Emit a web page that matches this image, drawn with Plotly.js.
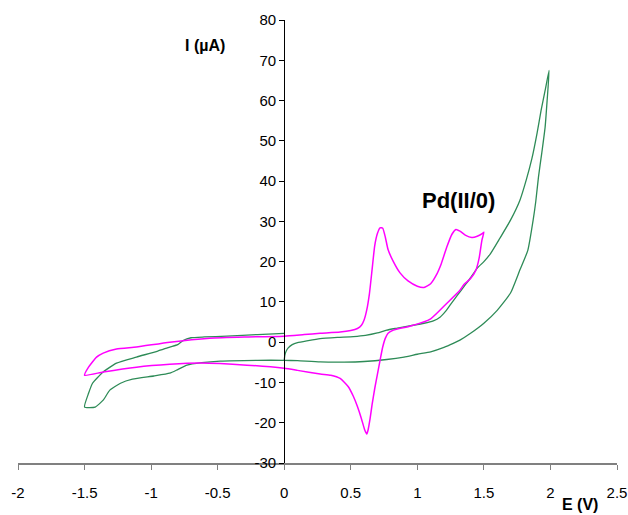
<!DOCTYPE html>
<html>
<head>
<meta charset="utf-8">
<script src="https://cdn.plot.ly/plotly-3.0.1.min.js"></script>
<style>html,body{margin:0;padding:0;background:#fff;}#chart{width:628px;height:515px;}</style>
</head>
<body>
<div id="chart"></div>
<script>
// Green CV (potential E in V, current I in µA)
const greenE = [0, 0.005, 0.015, 0.03, 0.06, 0.1, 0.18, 0.27, 0.4, 0.52, 0.61, 0.7, 0.77, 0.85, 0.95, 1.05, 1.12, 1.17, 1.21, 1.25, 1.3, 1.35, 1.40, 1.45, 1.50, 1.55, 1.62, 1.70, 1.77, 1.82, 1.86, 1.90, 1.93, 1.96, 1.99,
  1.975, 1.96, 1.935, 1.91, 1.89, 1.87, 1.83, 1.77, 1.70, 1.60, 1.50, 1.40, 1.32, 1.27, 1.2, 1.1, 1.0, 0.9, 0.77, 0.6, 0.45, 0.27, 0.1, 0, -0.2, -0.48, -0.62, -0.73, -0.80, -0.86, -0.98, -1.14, -1.23, -1.31, -1.36, -1.42, -1.50,
  -1.47, -1.44, -1.36, -1.26, -1.11, -0.95, -0.86, -0.80, -0.76, -0.70, -0.6, -0.43, -0.2, 0];
const greenI = [-4.5, -3.2, -2.2, -1.4, -0.6, -0.1, 0.4, 0.9, 1.2, 1.4, 1.7, 2.3, 3.0, 3.5, 4.1, 4.7, 5.3, 6.2, 7.6, 9.4, 11.6, 13.8, 16, 18.4, 20, 22, 25.8, 30.3, 35.2, 40.5, 45.5, 52, 57.6, 62.5, 67.5,
  60, 53.4, 47, 41, 35, 30.3, 22.8, 17.9, 12.2, 7.9, 4.7, 2.2, 0.5, -0.3, -1.3, -2.4, -3.0, -3.7, -4.3, -4.8, -4.95, -4.9, -4.6, -4.5, -4.5, -4.7, -5.1, -5.7, -6.8, -7.7, -8.4, -9.2, -10.2, -11.9, -14.4, -16.1, -16.1,
  -12.7, -10.2, -7.4, -5.2, -3.7, -2.2, -1.2, -0.6, 0.4, 1.1, 1.3, 1.5, 1.9, 2.2];

// Magenta CV, Pd(II/0)
const magE = [0, 0.15, 0.27, 0.42, 0.5, 0.55, 0.58, 0.60, 0.62, 0.64, 0.66, 0.68, 0.70, 0.72, 0.74, 0.76, 0.78, 0.82, 0.87, 0.93, 1.0, 1.05, 1.10, 1.14, 1.18, 1.22, 1.26, 1.29, 1.32, 1.36, 1.41, 1.45, 1.49, 1.5,
  1.485, 1.465, 1.44, 1.40, 1.35, 1.32, 1.22, 1.10, 0.95, 0.82, 0.78, 0.76, 0.74, 0.72, 0.70, 0.68, 0.66, 0.645, 0.63, 0.62, 0.605, 0.58, 0.55, 0.52, 0.48, 0.42, 0.35, 0.27, 0.1, 0, -0.28, -0.63, -0.86, -1.11, -1.36, -1.50,
  -1.47, -1.41, -1.36, -1.26, -1.11, -0.86, -0.56, -0.3, 0];
const magI = [1.5, 1.9, 2.2, 2.5, 2.9, 3.4, 4.2, 5.5, 8, 12, 18, 24, 27, 28.4, 28.3, 26, 23, 20, 17.2, 15.2, 13.9, 13.6, 14.5, 16.5, 19.5, 23.5, 26.8, 28, 27.6, 26.6, 26, 26.3, 27, 27.3,
  25.3, 21, 17.9, 15.8, 14.3, 12.9, 9.6, 5.8, 4.0, 3.0, 2.2, 1.0, -1.2, -4.5, -8, -11.5, -15.5, -19, -21.8, -22.8, -21.8, -19, -16, -13.5, -11, -9, -8.2, -7.9, -7, -6.5, -5.7, -5.2, -5.5, -6.2, -7.4, -8.2,
  -6.2, -3.7, -2.7, -1.7, -1.2, 0, 1.0, 1.3, 1.5];

const xTicks = [-2, -1.5, -1, -0.5, 0, 0.5, 1, 1.5, 2, 2.5];
const yTicks = [-30, -20, -10, 0, 10, 20, 30, 40, 50, 60, 70, 80];

const font = "Liberation Sans, Arial, sans-serif";

const traces = [
  {x: greenE, y: greenI, mode: 'lines', line: {color: 'rgb(46,139,87)', width: 1.3, shape: 'spline', smoothing: 0.5}, hoverinfo: 'skip'},
  {x: magE, y: magI, mode: 'lines', line: {color: '#FF00FF', width: 1.5, shape: 'spline', smoothing: 0.5}, hoverinfo: 'skip'}
];

const layout = {
  width: 628, height: 515,
  margin: {l: 18, r: 11, t: 20, b: 52},
  showlegend: false,
  paper_bgcolor: '#fff', plot_bgcolor: '#fff',
  font: {family: font, size: 15, color: '#000'},
  xaxis: {
    range: [-2, 2.5], tickvals: xTicks, ticktext: xTicks.map(String),
    showgrid: false, zeroline: false, showline: true, linecolor: '#808080', linewidth: 2,
    ticks: 'outside', ticklen: 5, tickcolor: '#808080', tickwidth: 1,
    ticklabelstandoff: 10,
    tickfont: {family: font, size: 15, color: '#000'},
    anchor: 'y'
  },
  yaxis: {
    range: [-30, 80], tickvals: yTicks, ticktext: yTicks.map(String),
    showgrid: false, zeroline: false, showline: true, linecolor: '#000', linewidth: 1,
    ticks: 'outside', ticklen: 5, tickcolor: '#000', tickwidth: 1,
    tickfont: {family: font, size: 15, color: '#000'},
    anchor: 'free', position: 2 / 4.5
  },
  annotations: [
    {xref: 'paper', yref: 'paper', x: (205 - 18) / 599, y: 1 - (45 - 20) / 443, text: '<b>I (µA)</b>', showarrow: false,
     font: {family: font, size: 16, color: '#000'}, xanchor: 'center', yanchor: 'middle'},
    {xref: 'paper', yref: 'paper', x: (580 - 18) / 599, y: -(504 - 463) / 443, text: '<b>E (V)</b>', showarrow: false,
     font: {family: font, size: 16, color: '#000'}, xanchor: 'center', yanchor: 'middle'},
    {xref: 'x', yref: 'y', x: 1.31, y: 35.2, text: '<b>Pd(II/0)</b>', showarrow: false,
     font: {family: font, size: 22, color: '#000'}, xanchor: 'center', yanchor: 'middle'}
  ]
};

Plotly.newPlot('chart', traces, layout, {displayModeBar: false, staticPlot: true});
</script>
</body>
</html>
